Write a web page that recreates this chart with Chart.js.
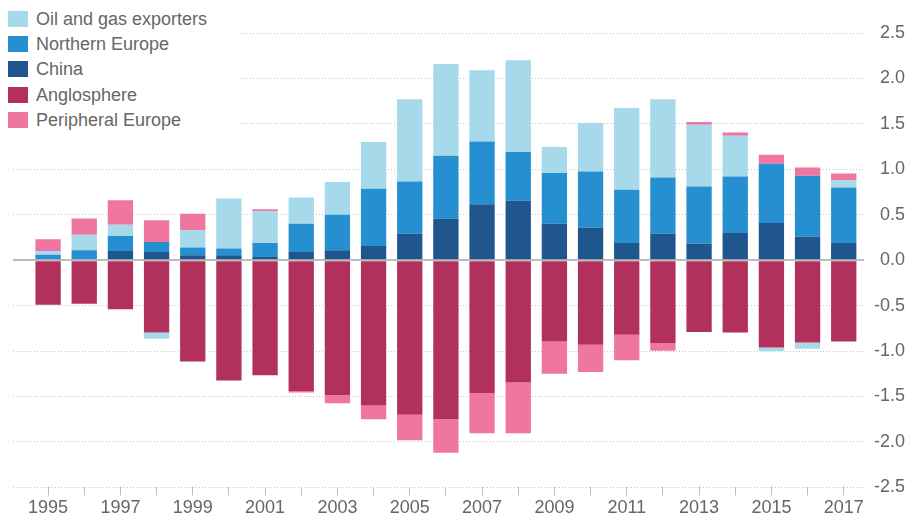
<!DOCTYPE html>
<html>
<head>
<meta charset="utf-8">
<script src="https://cdn.jsdelivr.net/npm/chart.js@4"></script>
<style>
  html, body { margin: 0; padding: 0; background: #fff; }
  #wrap { position: relative; width: 908px; height: 517px; }
  #legend {
    position: absolute; left: 0; top: 0; width: 240px; height: 134px;
    background: #fff; font-family: "Liberation Sans", Arial, sans-serif;
    font-size: 18px; color: #666;
  }
  #legend div { position: absolute; left: 8px; height: 16px; line-height: 16px; white-space: nowrap; }
  #legend span { display: inline-block; width: 20px; height: 16px; vertical-align: top; margin-right: 8px; }
</style>
</head>
<body>
<div id="wrap">
  <canvas id="myChart" width="908" height="517"></canvas>
  <div id="legend"></div>
</div>
<script>
// data
var years = [1995, 1996, 1997, 1998, 1999, 2000, 2001, 2002, 2003, 2004, 2005, 2006,
             2007, 2008, 2009, 2010, 2011, 2012, 2013, 2014, 2015, 2016, 2017];
var labeledYears = [1995, 1997, 1999, 2001, 2003, 2005, 2007, 2009, 2011, 2013, 2015, 2017];
var yTicks = [-2.5, -2.0, -1.5, -1.0, -0.5, 0.0, 0.5, 1.0, 1.5, 2.0, 2.5];

var anglosphere = [-0.49, -0.48, -0.54, -0.795, -1.115, -1.325, -1.265, -1.44, -1.485, -1.60, -1.70, -1.75,
                   -1.465, -1.345, -0.895, -0.93, -0.82, -0.91, -0.79, -0.795, -0.96, -0.905, -0.895];
var china = [0, 0, 0.10, 0.09, 0.055, 0.055, 0.035, 0.09, 0.11, 0.155, 0.29, 0.455,
             0.615, 0.655, 0.40, 0.36, 0.19, 0.29, 0.185, 0.30, 0.41, 0.26, 0.19];
var northernEurope = [0.06, 0.11, 0.165, 0.11, 0.085, 0.075, 0.155, 0.31, 0.39, 0.63, 0.575, 0.695,
                      0.69, 0.535, 0.56, 0.615, 0.585, 0.62, 0.625, 0.62, 0.65, 0.67, 0.61];
var oilGas = [0.04, 0.17, 0.125, -0.07, 0.19, 0.55, 0.35, 0.29, 0.36, 0.515, 0.905, 1.01,
              0.785, 1.01, 0.285, 0.535, 0.90, 0.86, 0.68, 0.45, -0.04, -0.07, 0.08];
var peripheral = [0.13, 0.18, 0.27, 0.24, 0.18, 0, 0.02, -0.015, -0.09, -0.15, -0.28, -0.37,
                  -0.44, -0.56, -0.355, -0.30, -0.28, -0.085, 0.03, 0.035, 0.10, 0.09, 0.075];

// stacking order (from zero outwards) = dataset order
var series = [
    { label: 'Anglosphere', data: anglosphere, color: '#b2315c' },
    { label: 'China', data: china, color: '#1f568d' },
    { label: 'Northern Europe', data: northernEurope, color: '#268fcf' },
    { label: 'Oil and gas exporters', data: oilGas, color: '#a6d9ea' },
    { label: 'Peripheral Europe', data: peripheral, color: '#ee76a0' }
];
var legendOrder = ['Oil and gas exporters', 'Northern Europe', 'China', 'Anglosphere', 'Peripheral Europe'];

var font = { family: '"Liberation Sans", Arial, sans-serif', size: 18 };

var ctx = document.getElementById('myChart').getContext('2d');
var myChart = new Chart(ctx, {
    type: 'bar',
    data: {
        labels: years,
        datasets: series.map(function (s) {
            return {
                label: s.label,
                data: s.data,
                backgroundColor: s.color,
                borderWidth: 0,
                categoryPercentage: 0.7,
                barPercentage: 1
            };
        })
    },
    options: {
        responsive: false,
        animation: false,
        layout: { padding: { left: 13, right: 3, top: 33, bottom: -4 } },
        plugins: { legend: { display: false }, tooltip: { enabled: false } },
        scales: {
            x: {
                type: 'linear',
                stacked: true,
                offset: false,
                bounds: 'data',
                min: 1994.03,
                max: 2017.56,
                afterBuildTicks: function (scale) {
                    scale.ticks = years.map(function (v) { return { value: v }; });
                },
                grid: { offset: false, drawOnChartArea: false, drawTicks: true, tickLength: 8, tickColor: '#bbb', tickWidth: 1 },
                border: { display: false },
                ticks: {
                    autoSkip: false, maxRotation: 0, padding: 2, color: '#666', font: font,
                    callback: function (v) { return labeledYears.indexOf(v) >= 0 ? String(v) : ''; }
                }
            },
            y: {
                type: 'linear',
                position: 'right',
                stacked: true,
                min: -2.5,
                max: 2.5,
                afterBuildTicks: function (scale) {
                    scale.ticks = yTicks.map(function (v) { return { value: v }; });
                },
                grid: {
                    drawTicks: false,
                    color: function (c) { return c.tick && c.tick.value === 0 ? '#bdbdbd' : '#c4c4c4'; },
                    lineWidth: function (c) { return c.tick && c.tick.value === 0 ? 2 : 1; }
                },
                border: {
                    display: false,
                    dash: function (c) { return c.tick && c.tick.value === 0 ? [] : [1, 2]; }
                },
                ticks: {
                    padding: 5, color: '#666', font: font, crossAlign: 'far',
                    callback: function (v) { return Number(v).toFixed(1); }
                }
            }
        }
    }
});

// legend drawn as html over the top-left corner
var legendEl = document.getElementById('legend');
legendOrder.forEach(function (name, i) {
    var s = series.filter(function (d) { return d.label === name; })[0];
    var row = document.createElement('div');
    row.style.top = (11 + i * 25.2) + 'px';
    row.innerHTML = '<span style="background:' + s.color + '"></span>' + s.label;
    legendEl.appendChild(row);
});
</script>
</body>
</html>
